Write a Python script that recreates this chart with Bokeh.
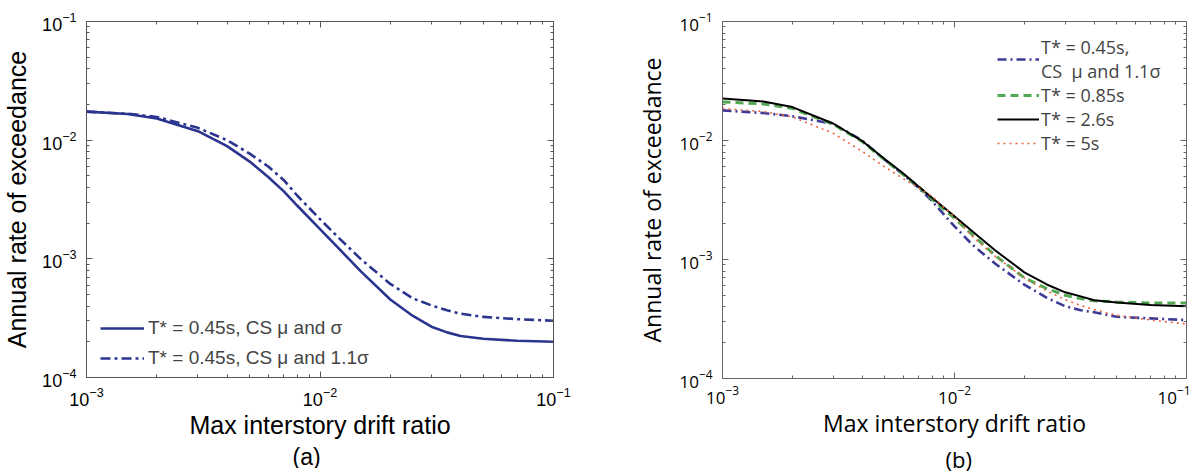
from bokeh.plotting import figure
from bokeh.layouts import row
from bokeh.models import (Range1d, LogAxis, FixedTicker, LogTickFormatter, Legend, LegendItem,
                          Title, CustomJSTickFormatter)
from bokeh.embed import file_html
from bokeh.resources import INLINE

# ---------------- data ----------------
drift = [0.001, 0.0015, 0.002, 0.003, 0.004, 0.005, 0.006, 0.007, 0.008, 0.01,
         0.012, 0.015, 0.02, 0.025, 0.03, 0.035, 0.04, 0.05, 0.07, 0.1]

# panel (a)
a_mu_sigma = [0.0174, 0.0166, 0.0152, 0.0119, 0.0089, 0.0066, 0.0049, 0.0037, 0.0028, 0.00178,
              0.00123, 0.00078, 0.000454, 0.00033, 0.000268, 0.000240, 0.000224, 0.000212, 0.000204, 0.0002]
a_mu_11sigma = [0.0174, 0.0167, 0.0157, 0.0127, 0.0100, 0.0077, 0.0060, 0.0046, 0.0034, 0.00216,
                0.00151, 0.00099, 0.000615, 0.000464, 0.000405, 0.000368, 0.000345, 0.000324, 0.00031, 0.000301]

# panel (b)
b_t045 = [0.0179, 0.0170, 0.0160, 0.0138, 0.0100, 0.0069, 0.0052, 0.0040, 0.0031, 0.0019,
          0.00132, 0.00092, 0.000615, 0.000476, 0.000405, 0.000375, 0.00036, 0.00033, 0.00032, 0.00031]
b_t085 = [0.0211, 0.0203, 0.0186, 0.0137, 0.0098, 0.0069, 0.0052, 0.0041, 0.0032, 0.00222,
          0.00160, 0.00108, 0.00070, 0.00057, 0.00050, 0.00047, 0.00045, 0.00044, 0.00043, 0.00043]
b_t26 = [0.0225, 0.0213, 0.0191, 0.0139, 0.0099, 0.0070, 0.0053, 0.0041, 0.0033, 0.00231,
         0.00171, 0.00119, 0.00078, 0.000617, 0.00053, 0.00049, 0.000455, 0.000436, 0.000415, 0.000404]
b_t5 = [0.0186, 0.0175, 0.0158, 0.0115, 0.0081, 0.0060, 0.0048, 0.0040, 0.0034, 0.00228,
        0.00155, 0.00106, 0.00070, 0.000543, 0.00046, 0.00041, 0.00038, 0.00034, 0.00031, 0.000287]

labels_a = ["T* = 0.45s, CS \u03bc and \u03c3", "T* = 0.45s, CS \u03bc and 1.1\u03c3"]
labels_b = ["T* = 0.45s,\nCS  \u03bc and 1.1\u03c3", "T* = 0.85s", "T* = 2.6s", "T* = 5s"]
x_title = "Max interstory drift ratio"
y_title = "Annual rate of exceedance"

x_major = [1e-3, 1e-2, 1e-1]
y_major = [1e-4, 1e-3, 1e-2, 1e-1]


def minors(majors):
    out = []
    for m in majors[:-1]:
        out += [m * k for k in range(2, 10)]
    return out


def style_axis(ax, axis_col):
    ax.major_tick_in = 6
    ax.major_tick_out = 0
    ax.minor_tick_in = 3
    ax.minor_tick_out = 0
    ax.axis_line_color = axis_col
    ax.major_tick_line_color = axis_col
    ax.minor_tick_line_color = axis_col


def make_fig(fw, fh, lb, rb, tb, bb, font, tick_size, xl_size, yl_size, axis_col,
             x_tick_standoff, x_label_standoff):
    p = figure(frame_width=fw, frame_height=fh, x_axis_type="log", y_axis_type="log",
               x_range=Range1d(1e-3, 1e-1), y_range=Range1d(1e-4, 1e-1),
               output_backend="svg", toolbar_location=None,
               min_border_left=lb, min_border_right=rb, min_border_top=tb, min_border_bottom=bb)
    p.xgrid.visible = False
    p.ygrid.visible = False
    p.outline_line_color = axis_col
    p.outline_line_width = 1
    p.background_fill_color = "white"
    p.border_fill_color = "white"
    xt = FixedTicker(ticks=x_major, minor_ticks=minors(x_major))
    yt = FixedTicker(ticks=y_major, minor_ticks=minors(y_major))
    p.xaxis[0].ticker = xt
    p.yaxis[0].ticker = yt
    p.xaxis[0].formatter = LogTickFormatter()
    p.yaxis[0].formatter = LogTickFormatter()
    for ax in (p.xaxis[0], p.yaxis[0]):
        style_axis(ax, axis_col)
        ax.major_label_text_font = font
        ax.major_label_text_font_size = tick_size
        ax.major_label_text_color = "black"
        ax.axis_label_text_font = font
        ax.axis_label_text_font_style = "normal"
        ax.axis_label_text_color = "black"
    p.xaxis[0].axis_label = x_title
    p.yaxis[0].axis_label = y_title
    p.xaxis[0].axis_label_text_font_size = xl_size
    p.yaxis[0].axis_label_text_font_size = yl_size
    p.xaxis[0].major_label_standoff = x_tick_standoff
    p.yaxis[0].major_label_standoff = 10
    p.xaxis[0].axis_label_standoff = x_label_standoff
    p.yaxis[0].axis_label_standoff = 8
    # mirror ticks on top / right
    for side, tk in (("above", xt), ("right", yt)):
        ax = LogAxis(ticker=tk, formatter=CustomJSTickFormatter(code="return ''"))
        style_axis(ax, axis_col)
        ax.major_label_standoff = 0
        ax.major_label_text_font_size = "1px"
        p.add_layout(ax, side)
    return p


# ---------------- panel (a) ----------------
navy = "#2b358f"
pa = make_fig(467, 356, 76, 80, 20, 60, "Liberation Sans", "18px", "25px", "25px", "#555555", 9, 2)
ra1 = pa.line(drift, a_mu_sigma, line_color=navy, line_width=2.6)
ra2 = pa.line(drift, a_mu_11sigma, line_color=navy, line_width=2.6, line_dash="10 4 3 4")
leg_a = Legend(items=[LegendItem(label=labels_a[0], renderers=[ra1]),
                      LegendItem(label=labels_a[1], renderers=[ra2])],
               location=(14, 8), glyph_width=44, glyph_height=20, label_height=20,
               label_standoff=4, spacing=8, padding=0, margin=0,
               label_text_font="Liberation Sans", label_text_font_size="19px",
               border_line_color=None, background_fill_alpha=0)
pa.add_layout(leg_a, "center")
pa.add_layout(Title(text="(a)", align="left", offset=206, standoff=0,
                    text_font="Liberation Sans", text_font_size="23px",
                    text_font_style="normal", text_color="black"), "below")

# ---------------- panel (b) ----------------
pb = make_fig(464, 357, 81, 4, 21, 60, "Open Sans", "17px", "23px", "23px", "#666666", 7, 0)
rb1 = pb.line(drift, b_t045, line_color="#3d3a98", line_width=2.6, line_dash="9 4 2 4")
rb2 = pb.line(drift, b_t085, line_color="#52a852", line_width=3, line_dash="8 5")
rb3 = pb.line(drift, b_t26, line_color="black", line_width=2)
rb4 = pb.line(drift, b_t5, line_color="#e8643e", line_width=1.6, line_dash="2 4")
leg_b = Legend(items=[LegendItem(label=labels_b[0], renderers=[rb1]),
                      LegendItem(label=labels_b[1], renderers=[rb2]),
                      LegendItem(label=labels_b[2], renderers=[rb3]),
                      LegendItem(label=labels_b[3], renderers=[rb4])],
               location=(275, 223), glyph_width=42, glyph_height=20, label_height=20,
               label_standoff=2, spacing=0, padding=0, margin=0,
               label_text_font="Open Sans", label_text_font_size="18px",
               label_text_line_height=1.4,
               border_line_color=None, background_fill_alpha=0)
pb.add_layout(leg_b, "center")
pb.add_layout(Title(text="(b)", align="left", offset=223, standoff=0,
                    text_font="Open Sans", text_font_size="22px",
                    text_font_style="normal", text_color="black"), "below")

layout = row(pa, pb)
open("out.html", "w").write(file_html(layout, INLINE))
